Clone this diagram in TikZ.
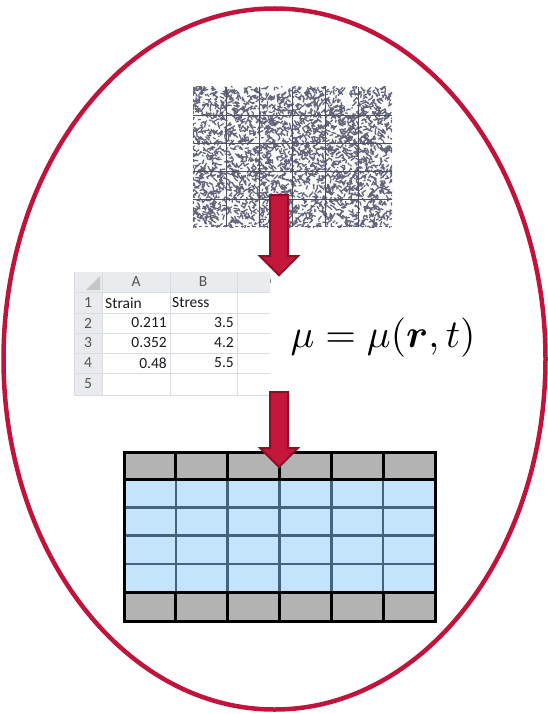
\documentclass[tikz,border=0pt]{standalone}
\usepackage{amsmath}
\usepackage{bm}
\usepackage{fontspec}
\newfontfamily\sheetfont{Carlito}
\usetikzlibrary{positioning,calc,shapes.geometric}
\definecolor{RingRed}{HTML}{C0143C}
\definecolor{ArrowFill}{HTML}{C5163B}
\definecolor{ArrowEdge}{HTML}{8C0F2B}
\definecolor{CellBlue}{HTML}{C3E4FB}
\definecolor{CellLine}{HTML}{44647E}
\definecolor{CellGray}{HTML}{B3B3B3}
\definecolor{SheetHead}{HTML}{E9EBEE}
\definecolor{SheetLine}{HTML}{D9DCE0}
\definecolor{SheetText}{HTML}{1A1A1A}
\definecolor{Speckle}{HTML}{62647A}

\begin{document}
\begin{tikzpicture}[x=1pt,y=-1pt,
  ring/.style={draw=RingRed,line width=4.5pt},
  cellnum/.style={font=\sheetfont\fontsize{15.5}{18}\selectfont,text=SheetText,inner sep=0pt},
  headnum/.style={cellnum,text=SheetText!75},
  blackline/.style={draw=black,line width=3pt},
  blueline/.style={draw=CellLine,line width=2.5pt},
  pics/blockarrow/.style={code={
    \filldraw[fill=ArrowFill,draw=ArrowEdge,line width=2pt,line join=miter]
      (-9,0) -- (9,0) -- (9,#1-19) -- (19,#1-19) -- (0,#1) -- (-19,#1-19) -- (-9,#1-19) -- cycle;
  }}
]
\useasboundingbox (0,0) rectangle (548,714);
\fill[white] (0,0) rectangle (548,714);

% outer ring
\node[ring,ellipse,minimum width=542pt,minimum height=701pt,inner sep=0pt] (ring) at (274.5,359) {};

% microstructure picture
\node[inner sep=0pt,minimum width=199pt,minimum height=140pt] (micro) at (292.5,157) {};
\begin{scope}
  \clip (193,87) rectangle (392,227);
  \fill[gray!4] (193,87) rectangle (392,227);
  \pgfmathsetseed{11}
  \draw[Speckle,line width=1.25pt,line cap=round]
    \foreach \k in {1,...,3000}{ ({193+199*rnd},{87+140*rnd}) -- ++({4*rand},{4*rand}) };
  \foreach \gx in {226,259,292,325,358}
    \draw[Speckle!80!black,line width=0.8pt] (\gx,87) -- (\gx,227);
  \foreach \gy in {115,143,171,199}
    \draw[Speckle!80!black,line width=0.8pt] (193,\gy) -- (392,\gy);
  \draw[Speckle,line width=1pt,dashed] (193,226.5) -- (392,226.5);
  \draw[Speckle,line width=1pt,dashed] (193.5,87) -- (193.5,227);
\end{scope}

% spreadsheet
\begin{scope}
  \clip (72,270) rectangle (270,397);
  \fill[SheetHead] (74,272) rectangle (272,292);
  \fill[SheetHead] (74,292) rectangle (102,395);
  \foreach \sx in {102,170,237}
    \draw[SheetLine,line width=0.8pt] (\sx,272) -- (\sx,395);
  \foreach \sy in {292,313,333,353,373,395}
    \draw[SheetLine,line width=0.8pt] (74,\sy) -- (272,\sy);
  \draw[SheetLine,line width=0.8pt] (74,272) -- (74,395);
  \fill[gray!45] (86,290) -- (100,290) -- (100,276) -- cycle;
  \node[headnum] (colA) at (136,282) {A};
  \node[headnum] (colB) at (203,282) {B};
  \node[headnum] (colC) at (274,282) {C};
  \foreach \r/\ry in {1/303,2/323,3/343,4/363,5/384}
    \node[headnum] (row\r) at (88,\ry) {\r};
  \node[cellnum,anchor=west] (strain) at (105,303) {Strain};
  \node[cellnum,anchor=west] (stress) at (172,303) {Stress};
  \foreach \r/\ry/\va/\vb in {2/323/0.211/3.5,3/343/0.352/4.2,4/363/0.48/5.5}{
    \node[cellnum,anchor=east] (a\r) at (167,\ry) {\va};
    \node[cellnum,anchor=east] (b\r) at (234,\ry) {\vb};
  }
\end{scope}
\node[inner sep=0pt,minimum width=198pt,minimum height=125pt] (sheet) at (172,333.5) {};

% constitutive law
\node[scale=3.95,inner sep=0pt] (law) at (383,338) {$\mu=\mu(\bm{r},t)$};

% mesh
\node[inner sep=0pt,minimum width=311pt,minimum height=169pt] (mesh) at (279.5,536.5) {};
\fill[CellGray] (124,452) rectangle (435,479);
\fill[CellGray] (124,592) rectangle (435,621);
\fill[CellBlue] (124,479) rectangle (435,592);
\foreach \my in {507.25,535.5,563.75}
  \draw[blueline] (124,\my) -- (435,\my);
\foreach \i in {1,...,5}{
  \draw[blueline] ({124+51.83*\i},479) -- ({124+51.83*\i},592);
  \draw[blackline] ({124+51.83*\i},452) -- ({124+51.83*\i},479);
  \draw[blackline] ({124+51.83*\i},592) -- ({124+51.83*\i},621);
}
\draw[blackline] (124,452) rectangle (435,621);
\draw[blackline] (124,479) -- (435,479);
\draw[blackline] (124,592) -- (435,592);

% arrows
\pic at ($(micro.south)+(-13.5,-32)$) {blockarrow=80};
\pic at (279,392) {blockarrow=75};
\end{tikzpicture}
\end{document}
